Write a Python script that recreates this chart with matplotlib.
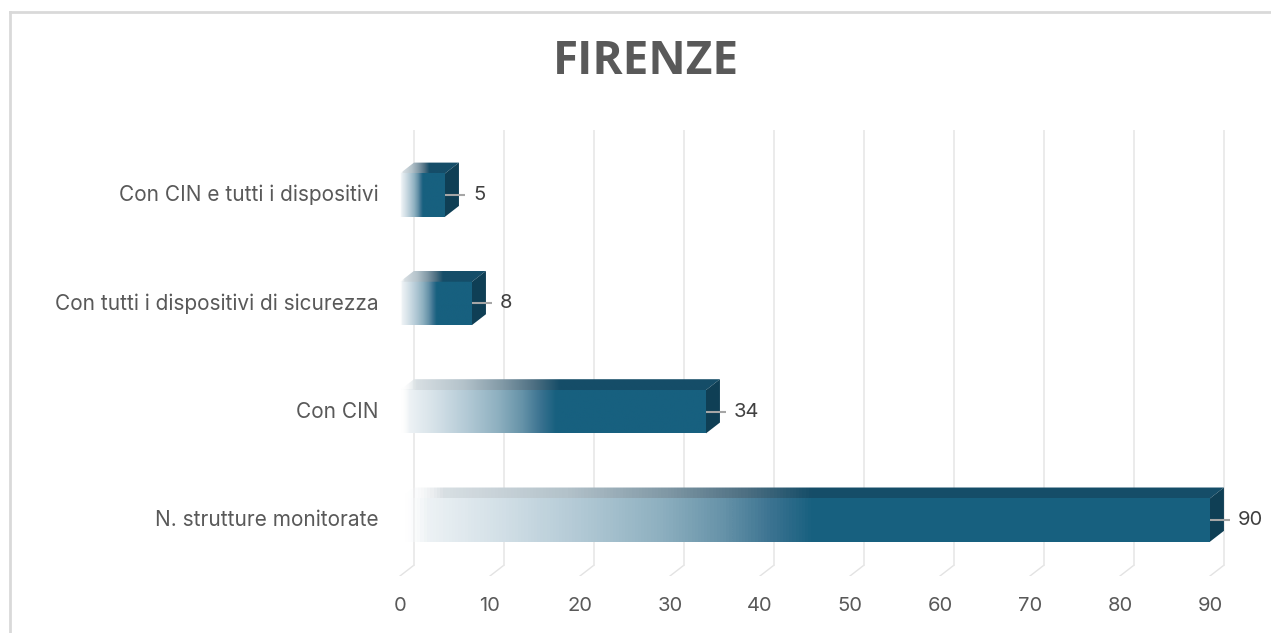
import numpy as np
import matplotlib
matplotlib.use("Agg")
import matplotlib.pyplot as plt
from matplotlib.colors import LinearSegmentedColormap
from matplotlib.patches import Polygon
from matplotlib.lines import Line2D

# dati
categorie = ["N. strutture monitorate", "Con CIN",
             "Con tutti i dispositivi di sicurezza", "Con CIN e tutti i dispositivi"]
valori = [90, 34, 8, 5]
tick_x = list(range(0, 100, 10))
titolo = "FIRENZE"

# stile
grigio = "#595959"
fronte = "#17607f"
sopra = "#154d68"
lato = "#0f3f55"
hh = 0.2      # mezza altezza barra
dx = 1.55     # profondita in x (unita dati)
dy = 0.10     # profondita in y

plt.rcParams['font.family'] = ['Inter', 'DejaVu Sans']

cm_fronte = LinearSegmentedColormap.from_list("fronte", [
    (0.0, (1, 1, 1, 0)), (0.03, "#edf2f5"), (0.12, "#d3e0e7"), (0.22, "#b2c9d5"),
    (0.32, "#8eb0c0"), (0.40, "#6592a8"), (0.46, "#3a7290"), (0.51, fronte), (1.0, fronte)])
cm_sopra = LinearSegmentedColormap.from_list("sopra", [
    (0.0, (1, 1, 1, 0)), (0.05, "#d8dfe3"), (0.2, "#b3c2ca"), (0.32, "#8199a6"),
    (0.42, "#4d6f82"), (0.5, sopra), (1.0, sopra)])
grad = np.linspace(0, 1, 256).reshape(1, -1)

fig = plt.figure(figsize=(12.71, 6.33), dpi=100)
ax = fig.add_axes([373 / 1271, 57 / 633, 900 / 1271, 446 / 633])
y0, y1 = -0.517, 3.601

# griglia 3D (pavimento + parete di fondo)
for t in tick_x:
    ax.plot([t, t + dx], [y0, y0 + dy], color="#e3e3e3", lw=1, zorder=1)
    ax.plot([t + dx, t + dx], [y0 + dy, y1], color="#e8e8e8", lw=1.2, zorder=1)

# barre
for i, (cat, v) in enumerate(zip(categorie, valori)):
    yc = i
    # faccia frontale
    ax.imshow(grad, cmap=cm_fronte, aspect="auto", interpolation="bilinear",
              extent=[0, v, yc - hh, yc + hh], zorder=3)
    # faccia superiore
    top = Polygon([(0, yc + hh), (v, yc + hh), (v + dx, yc + hh + dy), (dx, yc + hh + dy)],
                  closed=True, facecolor="none", edgecolor="none", transform=ax.transData)
    ax.add_patch(top)
    im = ax.imshow(grad, cmap=cm_sopra, aspect="auto", interpolation="bilinear",
                   extent=[0, v + dx, yc + hh, yc + hh + dy], zorder=3)
    im.set_clip_path(top)
    # faccia laterale
    ax.add_patch(Polygon([(v, yc - hh), (v + dx, yc - hh + dy), (v + dx, yc + hh + dy), (v, yc + hh)],
                         closed=True, facecolor=lato, edgecolor="none", zorder=3))
    # etichetta valore
    ax.plot([v, v + 2.2], [yc, yc], color="#a6a6a6", lw=1.5, zorder=4, solid_capstyle="butt")
    ax.text(v + 3.1, yc, str(v), va="center", ha="left", fontsize=14.5, color="#404040")
    # categoria
    ax.text(-2.4, yc, cat, va="center", ha="right", fontsize=15, color=grigio)

ax.set_xlim(-3, 97)
ax.set_ylim(y0, y1)
ax.set_xticks(tick_x)
ax.set_yticks([])
ax.tick_params(axis="x", length=0, pad=15, labelsize=14.5, labelcolor=grigio)
for s in ax.spines.values():
    s.set_visible(False)
ax.patch.set_alpha(0)

fig.text(646 / 1271, 1 - 62 / 633, titolo, ha="center", va="center",
         fontsize=33, fontweight="bold", color=grigio, family=['Open Sans', 'DejaVu Sans'])

# cornice
fig.add_artist(Line2D([10 / 1271, 10 / 1271], [0, 1 - 12 / 633], color="#d9d9d9", lw=2,
                      transform=fig.transFigure))
fig.add_artist(Line2D([10 / 1271, 1], [1 - 12 / 633, 1 - 12 / 633], color="#d9d9d9", lw=2,
                      transform=fig.transFigure))

fig.savefig("out.png", dpi=100)
